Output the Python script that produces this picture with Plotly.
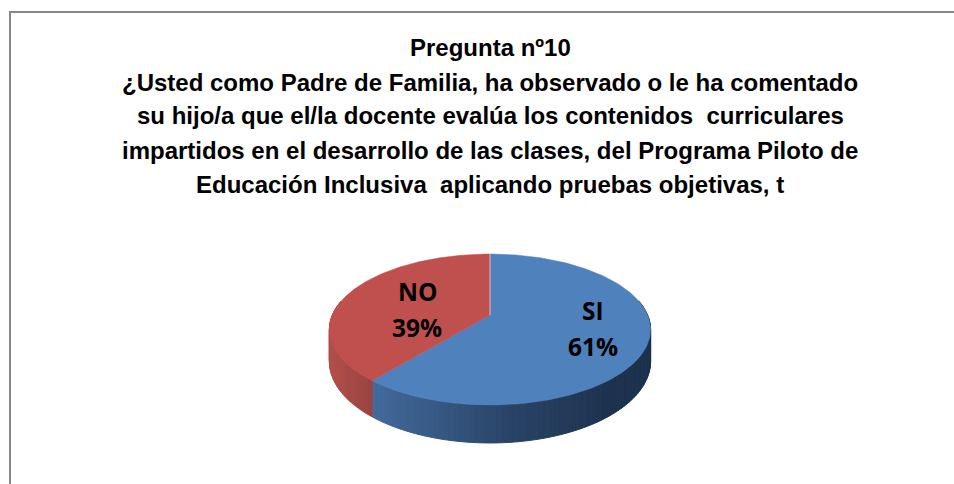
import numpy as np
import plotly.graph_objects as go

categories = ["SI", "NO"]
values = [61, 39]
title_lines = [
    "Pregunta nº10",
    "¿Usted como Padre de Familia, ha observado o le ha comentado",
    "su hijo/a que el/la docente evalúa los contenidos  curriculares",
    "impartidos en el desarrollo de las clases, del Programa Piloto de",
    "Educación Inclusiva  aplicando pruebas objetivas, t",
]
title_y = [47, 82, 115, 150, 184]
top_colors = ["#4F81BD", "#C0504D"]

CX, CY, A, B, P, DEPTH = 490.0, 315.0, 157.6, 72.7, 0.192, 30.7


def project(theta, drop=0.0):
    u, v = np.sin(theta), np.cos(theta)
    w = 1 + P * v
    return CX + A * u / w, CY - B * v / w + drop / w


def side_color(name, x):
    if name == "SI":
        stops_x, c0, c1, c2 = [375, 500, 610], (66, 106, 156), (43, 70, 106), (29, 50, 78)
    else:
        stops_x, c0, c1, c2 = [330, 352, 376], (178, 80, 76), (166, 73, 70), (150, 66, 63)
    rgb = [np.interp(x, stops_x, [c0[i], c1[i], c2[i]]) for i in range(3)]
    return "rgb(%d,%d,%d)" % tuple(int(round(c)) for c in rgb)


fig = go.Figure()
total = sum(values)
start = 0.0
for name, val, col in zip(categories, values, top_colors):
    t0 = start
    t1 = start + 2 * np.pi * val / total
    start = t1
    lo, hi = max(t0, np.pi / 2 - 0.2), min(t1, 3 * np.pi / 2 + 0.2)
    if hi > lo:
        edges = np.linspace(lo, hi, 90)
        for a, b in zip(edges[:-1], edges[1:]):
            th = np.array([a, b])
            xt, yt = project(th)
            xb, yb = project(th[::-1], DEPTH)
            xs = np.r_[xt, xb, xt[0]]
            ys = np.r_[yt, yb, yt[0]]
            c = side_color(name, xs.mean())
            fig.add_trace(go.Scatter(x=xs, y=ys, mode="lines", fill="toself", fillcolor=c,
                                     line=dict(color=c, width=1), hoverinfo="skip", showlegend=False))
for_start = 0.0
for name, val, col in zip(categories, values, top_colors):
    t0 = for_start
    t1 = for_start + 2 * np.pi * val / total
    for_start = t1
    th = np.linspace(t0, t1, 200)
    xs, ys = project(th)
    fig.add_trace(go.Scatter(x=np.r_[CX, xs, CX], y=np.r_[CY, ys, CY], mode="lines", fill="toself",
                             fillcolor=col, line=dict(color=col, width=0.5), name=name, showlegend=False))

# thin pale seam where the first slice starts
seam_x, seam_y = project(np.array([0.0]))
fig.add_trace(go.Scatter(x=[CX, seam_x[0]], y=[CY, seam_y[0]], mode="lines",
                         line=dict(color="rgba(235,225,225,0.75)", width=1),
                         hoverinfo="skip", showlegend=False))

annotations = [dict(x=490, y=yy, xref="x", yref="y", text="<b>%s</b>" % t, showarrow=False,
                    xanchor="center", yanchor="middle",
                    font=dict(family="Liberation Sans", size=24, color="#000000"))
               for t, yy in zip(title_lines, title_y)]
label_pos = {"SI": (593, 310, 346), "NO": (417, 291, 327)}
for name, val in zip(categories, values):
    x, y1, y2 = label_pos[name]
    for txt, y in ((name, y1), ("%d%%" % val, y2)):
        annotations.append(dict(x=x, y=y, xref="x", yref="y", text="<b>%s</b>" % txt,
                                showarrow=False, xanchor="center", yanchor="middle",
                                font=dict(family="Open Sans", size=24.5, color="#000000")))

fig.update_layout(
    width=954, height=484, margin=dict(l=0, r=0, t=0, b=0),
    paper_bgcolor="white", plot_bgcolor="white", showlegend=False,
    xaxis=dict(range=[0, 954], visible=False, fixedrange=True),
    yaxis=dict(range=[484, 0], visible=False, fixedrange=True),
    annotations=annotations,
    shapes=[dict(type="rect", xref="x", yref="y", x0=10, y0=12, x1=1000, y1=520,
                 line=dict(color="#868686", width=2), fillcolor="rgba(0,0,0,0)", layer="below")],
)
fig.write_html("out.html", config={"displayModeBar": False},
               post_script="document.documentElement.style.margin='0';document.body.style.margin='0';document.body.style.overflow='hidden';")
